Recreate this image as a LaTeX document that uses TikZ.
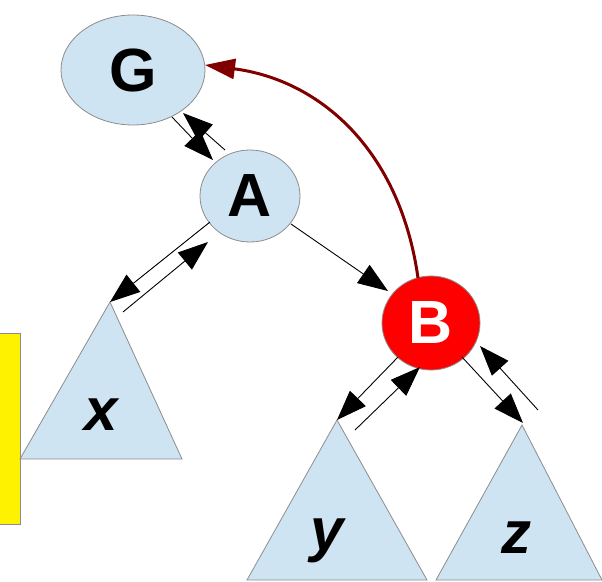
\documentclass[tikz,border=0pt]{standalone}
\usepackage{fontspec}
\setmainfont{Liberation Sans}
\usetikzlibrary{arrows.meta,shapes.geometric}
\definecolor{paleblue}{HTML}{CFE4F2}
\definecolor{linegray}{HTML}{8C8C8C}
\definecolor{darkred}{HTML}{800000}
\newcommand\bigletter{\fontsize{61}{61}\selectfont\bfseries}
\newcommand\leafletter{\fontsize{60}{60}\selectfont\bfseries\itshape}
\tikzset{
  bubble/.style={ellipse, draw=linegray, fill=paleblue, line width=0.8pt,
    inner sep=0pt, font=\bigletter},
  leaf/.style={draw=linegray, fill=paleblue, line width=0.8pt},
  leaflabel/.style={anchor=base, inner sep=0pt, font=\leafletter},
  link/.style={draw=black, line width=0.9pt, -{Triangle[length=30pt,width=22pt]}},
  rotarrow/.style={draw=darkred, line width=3pt, -{Triangle[length=30pt,width=20pt]}},
}
\begin{document}
\begin{tikzpicture}[x=1pt,y=-1pt]
  \useasboundingbox (0,0) rectangle (602,581);

  % yellow marker on the left
  \draw[linegray, fill=yellow, line width=0.8pt] (-2,333) rectangle (20,524);

  % subtrees
  \draw[leaf] (110,302) -- (182,459) -- (20,459) -- cycle;
  \draw[leaf] (337,420) -- (427,580) -- (247,580) -- cycle;
  \draw[leaf] (522,425) -- (602,580) -- (436,580) -- cycle;
  \node[leaflabel] (lx) at (101,430) {x};
  \node[leaflabel] (ly) at (327,550) {y};
  \node[leaflabel] (lz) at (516,553) {z};

  % tree nodes
  \node[bubble, minimum width=144pt, minimum height=110pt] (G) at (133,70) {G};
  \node[bubble, minimum width=100pt, minimum height=92pt] (A) at (250,196) {A};
  \node[bubble, minimum width=98pt, minimum height=94pt, fill=red, text=white] (B) at (431,323) {B};

  % connector end points
  \coordinate (gaS) at (172,117);  \coordinate (gaT) at (213,160);
  \coordinate (agS) at (225,150);  \coordinate (agT) at (183,113);
  \coordinate (axS) at (210,222);  \coordinate (axT) at (110,302);
  \coordinate (xaS) at (123,312);  \coordinate (xaT) at (208,242);
  \coordinate (abS) at (291,224);  \coordinate (abT) at (388,291);
  \coordinate (byS) at (398,357);  \coordinate (byT) at (337,420);
  \coordinate (ybS) at (355,430);  \coordinate (ybT) at (420,367);
  \coordinate (bzS) at (462,357);  \coordinate (bzT) at (523,423);
  \coordinate (zbS) at (538,410);  \coordinate (zbT) at (480,346);
  \coordinate (bTop) at (418,278); \coordinate (gRight) at (205,65);

  % parent/child links
  \draw[link] (gaS) -- (gaT);
  \draw[link] (agS) -- (agT);
  \draw[link] (axS) -- (axT);
  \draw[link] (xaS) -- (xaT);
  \draw[link] (abS) -- (abT);
  \draw[link] (byS) -- (byT);
  \draw[link] (ybS) -- (ybT);
  \draw[link] (bzS) -- (bzT);
  \draw[link] (zbS) -- (zbT);

  % rotation arrow from B up to G
  \draw[rotarrow] (bTop) .. controls (400,150) and (320,80) .. (gRight);
\end{tikzpicture}
\end{document}
